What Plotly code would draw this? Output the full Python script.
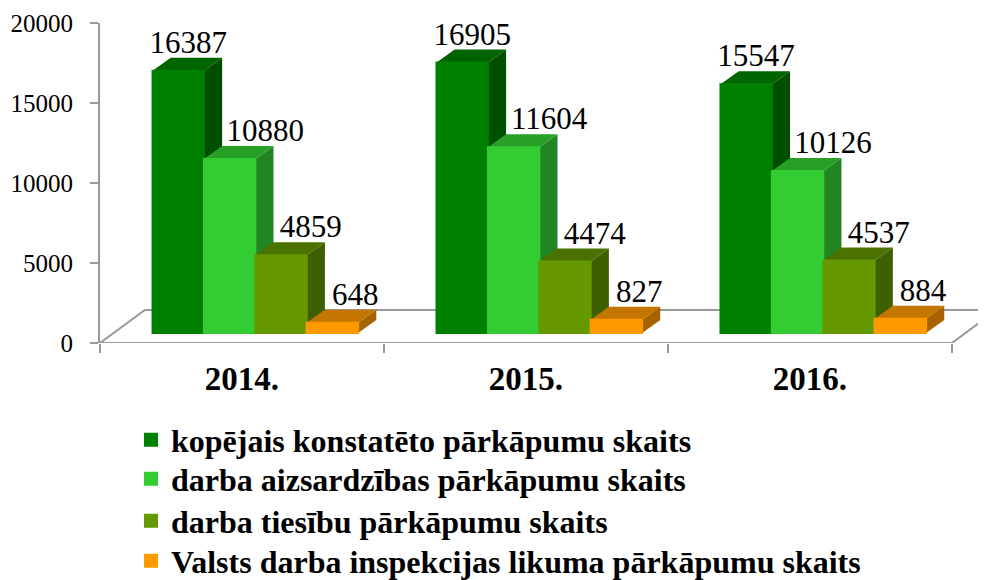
import plotly.graph_objects as go

# ---------------- data ----------------
years = ["2014.", "2015.", "2016."]
series_names = [
    "kopējais konstatēto pārkāpumu skaits",
    "darba aizsardzības pārkāpumu skaits",
    "darba tiesību pārkāpumu skaits",
    "Valsts darba inspekcijas likuma pārkāpumu skaits",
]
total_violations = [16387, 16905, 15547]
safety_violations = [10880, 11604, 10126]
labour_law_violations = [4859, 4474, 4537]
inspection_law_violations = [648, 827, 884]
y_tick_values = [0, 5000, 10000, 15000, 20000]
y_tick_labels = ["0", "5000", "10000", "15000", "20000"]

series_values = [total_violations, safety_violations,
                 labour_law_violations, inspection_law_violations]

# ---------------- styling / pseudo-3D projection ----------------
front_colors = ["#008000", "#33CC33", "#669900", "#FF9900"]
top_colors = ["#006400", "#28A028", "#4B7200", "#C47600"]
side_colors = ["#004F00", "#228422", "#3D6100", "#A56400"]
label_shift = [0.035, 0.125, 0.105, 0.08]   # label x offset per series (category units)
legend_rows_px = [432, 471, 513, 553]       # legend row centres (figure px)

BAR_W = 0.181        # bar width in category units
SHIFT = 0.047        # forward/right shift of bar fronts (projection)
DEPTH_X = 0.064      # depth offset of bar top/side faces (x units)
DEPTH_Y = 812        # depth offset of bar top/side faces (y units)
LABEL_DROP = 180     # small downward nudge of value labels (y units)
BASE = 625           # bar front baseline (projection of floor depth)
FLOOR_X = 0.158      # floor depth (x units)
FLOOR_Y = 2062       # floor depth (y units)
N = len(years)
X_MAX = 3.12
FONT = "Liberation Serif"
W, H = 978, 572      # page body adds an 8px offset inside the 986x580 window

fig = go.Figure()
shapes = []

# floor (drawn below everything)
floor_path = (f"M 0,0 L {FLOOR_X},{FLOOR_Y} L {N + FLOOR_X},{FLOOR_Y} "
              f"M {N},0 L {N + FLOOR_X},{FLOOR_Y} M 0,0 L {N},0")
shapes.append(dict(type="path", xref="x", yref="y", path=floor_path,
                   line=dict(color="#999999", width=2), layer="below"))

for k in range(N):
    for i, vals in enumerate(series_values):
        xc = k + 0.5 + SHIFT + (i - 1.5) * BAR_W
        x0, x1 = xc - BAR_W / 2, xc + BAR_W / 2
        top = BASE + vals[k]
        side = (f"M {x1},{BASE} L {x1},{top} L {x1 + DEPTH_X},{top + DEPTH_Y} "
                f"L {x1 + DEPTH_X},{BASE + DEPTH_Y} Z")
        topf = (f"M {x0},{top} L {x1},{top} L {x1 + DEPTH_X},{top + DEPTH_Y} "
                f"L {x0 + DEPTH_X},{top + DEPTH_Y} Z")
        shapes.append(dict(type="path", xref="x", yref="y", path=side,
                           fillcolor=side_colors[i], line=dict(width=0),
                           layer="below"))
        shapes.append(dict(type="path", xref="x", yref="y", path=topf,
                           fillcolor=top_colors[i], line=dict(width=0),
                           layer="below"))

legend_ids = ["legend", "legend2", "legend3", "legend4"]

# front faces as bars
for i, (name, vals) in enumerate(zip(series_names, series_values)):
    xs = [k + 0.5 + SHIFT + (i - 1.5) * BAR_W for k in range(N)]
    fig.add_trace(go.Bar(
        x=xs, y=vals, base=BASE, width=BAR_W, name=name,
        marker=dict(color=front_colors[i], line=dict(width=2, color=front_colors[i])),
        hoverinfo="skip", legend=legend_ids[i],
    ))

# data labels
for i, vals in enumerate(series_values):
    xs = [k + 0.5 + SHIFT + (i - 1.5) * BAR_W + label_shift[i] for k in range(N)]
    ys = [BASE + v + DEPTH_Y - LABEL_DROP for v in vals]
    fig.add_trace(go.Scatter(
        x=xs, y=ys, mode="text", text=[str(v) for v in vals],
        textposition="top center",
        textfont=dict(family=FONT, size=31, color="black"),
        showlegend=False, hoverinfo="skip", cliponaxis=False,
    ))

legend_style = dict(
    xref="container", yref="container", xanchor="left", yanchor="middle",
    font=dict(family=FONT, size=32, color="black", weight="bold"),
    bgcolor="rgba(0,0,0,0)", itemwidth=30,
)
legend_layout = {}
for lid, row in zip(legend_ids, legend_rows_px):
    legend_layout[lid] = dict(legend_style, x=123 / W, y=1 - row / H)

fig.update_layout(
    width=W, height=H,
    margin=dict(l=92, r=0, t=15, b=237, autoexpand=False),
    paper_bgcolor="white", plot_bgcolor="white",
    barmode="overlay",
    shapes=shapes,
    showlegend=True,
    xaxis=dict(
        range=[0, X_MAX], showgrid=False, zeroline=False, showline=False,
        tickmode="array", tickvals=[k + 0.5 for k in range(N)], ticktext=years,
        ticks="", tickfont=dict(family=FONT, size=33, color="black", weight="bold"),
        ticklabelstandoff=13, tickangle=0,
        minor=dict(tickmode="array", tickvals=list(range(N + 1)), ticks="outside",
                   ticklen=9, tickcolor="#999999", tickwidth=2, showgrid=False),
    ),
    yaxis=dict(
        range=[0, 20000], showgrid=False, zeroline=False,
        showline=True, linecolor="#999999", linewidth=2,
        tickmode="array", tickvals=y_tick_values, ticktext=y_tick_labels,
        ticks="outside", ticklen=8, tickcolor="#999999", tickwidth=2,
        tickfont=dict(family=FONT, size=25, color="black"),
        ticklabelstandoff=12,
    ),
    **legend_layout,
)

fig.write_html("out.html")
